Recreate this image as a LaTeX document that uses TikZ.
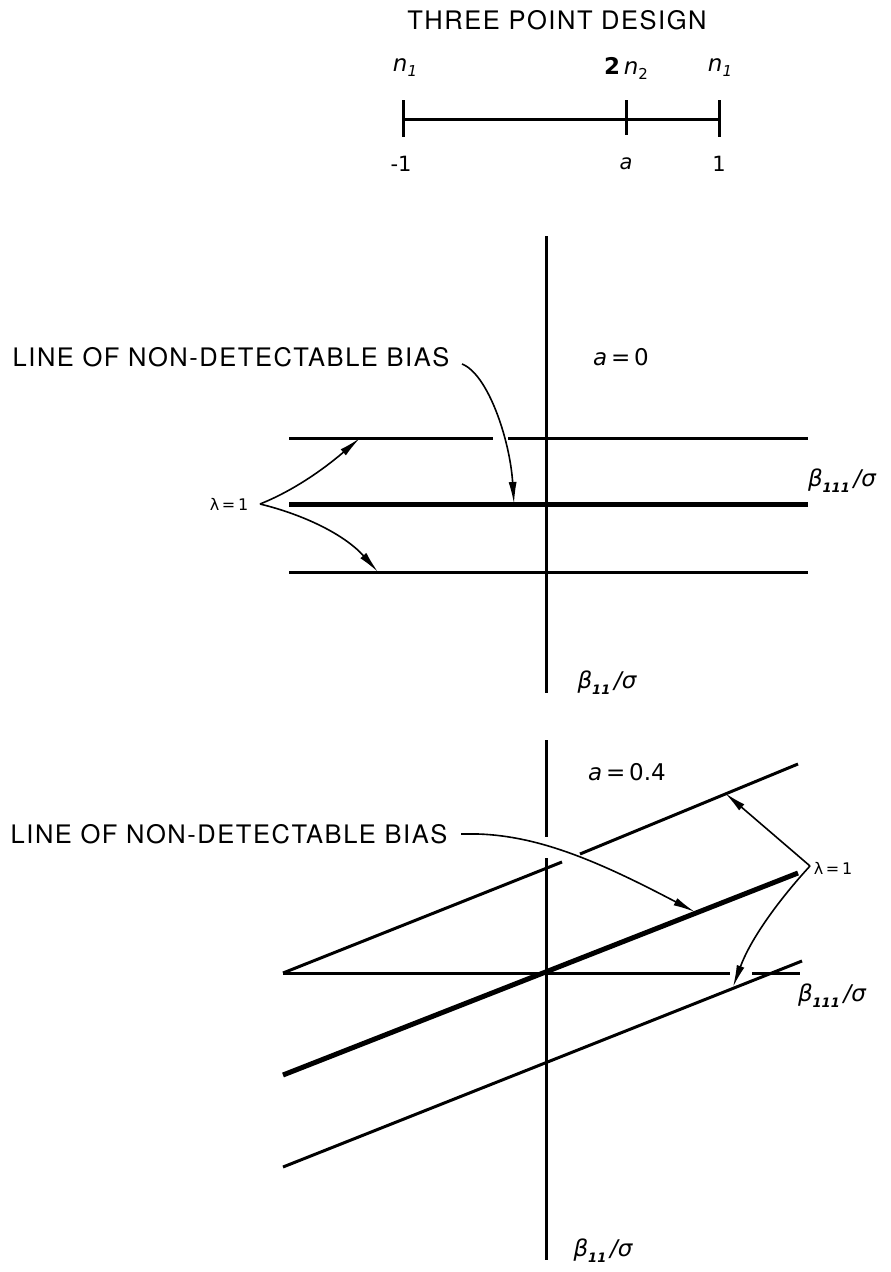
\documentclass[tikz,border=0pt]{standalone}
\usepackage{fontspec}
\setmainfont{TeX Gyre Heros}[LetterSpace=6]
\newfontfamily\lett{DejaVu Sans}
\usetikzlibrary{arrows.meta}
\newcommand{\sub}[1]{\raisebox{-6pt}{\fontsize{13}{13}\selectfont\bfseries #1}}
\newcommand{\subn}[1]{\raisebox{-5pt}{\fontsize{15}{15}\selectfont #1}}
\tikzset{
  thin line/.style={line width=3pt},
  thick line/.style={line width=5pt},
  axis line/.style={line width=3pt},
  pointer/.style={line width=1.6pt,-{Latex[length=22pt,width=8pt]}},
  lbl/.style={inner sep=0pt,font=\fontsize{25.5}{26}\selectfont},
  mlbl/.style={inner sep=0pt,font=\lett\fontsize{23}{24}\selectfont},
  tlbl/.style={inner sep=0pt,font=\lett\fontsize{21}{21}\selectfont},
  slbl/.style={inner sep=0pt,font=\lett\fontsize{16}{16}\selectfont},
}
\begin{document}
\begin{tikzpicture}[x=1pt,y=-1pt]
\useasboundingbox (0,0) rectangle (891,1272);
% ---------- three point design ----------
\node[lbl] (title) at (557,20) {THREE POINT DESIGN};
\coordinate (dL) at (403,119);
\coordinate (dM) at (626,119);
\coordinate (dR) at (719,119);
\draw[thin line] (dL) -- (dR);
\draw[thin line] (403,100) -- (403,137);
\draw[thin line] (626,100) -- (626,135);
\draw[thin line] (719,100) -- (719,137);
\node[mlbl] (nL) at (405,68) {\itshape n\subn{1}};
\node[mlbl] (nM) at (626,68) {\bfseries 2\,\mdseries\itshape n\subn{\upshape 2}};
\node[mlbl] (nR) at (720,68) {\itshape n\subn{1}};
\node[tlbl] (vL) at (401,164) {-1};
\node[tlbl] (vM) at (626,164) {\itshape a};
\node[tlbl] (vR) at (719,164) {1};
% ---------- upper graph a = 0 ----------
\draw[axis line] (546,236) -- (546,693);
\draw[thin line] (289,438) -- (493,438);
\draw[thin line] (508,438) -- (808,438);
\draw[thick line] (289,504) -- (808,504);
\draw[thin line] (289,572) -- (808,572);
\node[lbl] (bias1) at (231,357) {LINE OF NON-DETECTABLE BIAS};
\node[mlbl] (a0) at (621,357) {\itshape a\upshape\,=\,0};
\node[mlbl] (b111a) at (842,481) {\itshape β\sub{111}\,/σ};
\node[mlbl] (b11a) at (607,683) {\itshape β\sub{11}\,/σ};
\node[slbl] (lam1) at (229,504) {λ\,=\,1};
\coordinate (u1) at (462,364);
\coordinate (u2) at (514,504);
\coordinate (l0) at (260,504);
\coordinate (l1) at (360,438);
\coordinate (l2) at (378,572);
\draw[pointer] (u1) .. controls (488,374) and (510,440) .. (u2);
\draw[pointer] (l0) .. controls (300,488) and (332,462) .. (l1);
\draw[pointer] (l0) .. controls (305,515) and (345,535) .. (l2);
% ---------- lower graph a = 0.4 ----------
\draw[axis line] (546,740) -- (546,837);
\draw[axis line] (546,858) -- (546,1260);
\draw[thin line] (283,973) -- (730,973);
\draw[thin line] (752,973) -- (800,973);
\draw[thin line] (283,973) -- (562,862);
\draw[thin line] (580,854) -- (798,764);
\draw[thick line] (283,1075) -- (798,873);
\draw[thin line] (283,1167) -- (802,961);
\node[lbl] (bias2) at (229,834) {LINE OF NON-DETECTABLE BIAS};
\node[mlbl] (a4) at (627,772) {\itshape a\upshape\,=\,0.4};
\node[mlbl] (b111b) at (832,996) {\itshape β\sub{111}\,/σ};
\node[mlbl] (b11b) at (603,1251) {\itshape β\sub{11}\,/σ};
\node[slbl] (lam2) at (833,868) {λ\,=\,1};
\coordinate (v1) at (461,834);
\coordinate (v2) at (695,912);
\coordinate (m0) at (810,866);
\coordinate (m1) at (725,793);
\coordinate (m2) at (733,987);
\draw[pointer] (v1) -- (478,834) .. controls (540,836) and (600,862) .. (v2);
\draw[pointer] (m0) -- (m1);
\draw[pointer] (m0) .. controls (785,893) and (752,935) .. (m2);
\end{tikzpicture}
\end{document}
